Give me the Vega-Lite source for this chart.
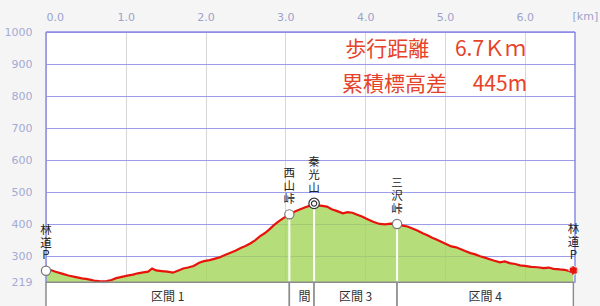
{
  "$schema": "https://vega.github.io/schema/vega-lite/v6.json",
  "width": 529,
  "height": 274,
  "autosize": {"type": "none"},
  "padding": {"left": 46, "top": 32, "right": 25, "bottom": 0},
  "background": "#f5f5f5",
  "view": {"fill": "white", "stroke": null},
  "config": {"font": "DejaVu Sans"},
  "datasets": {
    "profile": [
      {"km": 0.00, "elev": 255}, {"km": 0.05, "elev": 258}, {"km": 0.12, "elev": 252}, {"km": 0.20, "elev": 246},
      {"km": 0.28, "elev": 240}, {"km": 0.36, "elev": 236}, {"km": 0.45, "elev": 231}, {"km": 0.52, "elev": 229},
      {"km": 0.60, "elev": 224}, {"km": 0.68, "elev": 222}, {"km": 0.76, "elev": 223}, {"km": 0.82, "elev": 226},
      {"km": 0.88, "elev": 232}, {"km": 0.95, "elev": 236}, {"km": 1.02, "elev": 240}, {"km": 1.09, "elev": 243},
      {"km": 1.15, "elev": 247}, {"km": 1.22, "elev": 250}, {"km": 1.28, "elev": 252}, {"km": 1.33, "elev": 262},
      {"km": 1.38, "elev": 256}, {"km": 1.45, "elev": 254}, {"km": 1.52, "elev": 252}, {"km": 1.59, "elev": 249},
      {"km": 1.66, "elev": 256}, {"km": 1.72, "elev": 262}, {"km": 1.78, "elev": 265}, {"km": 1.85, "elev": 270},
      {"km": 1.92, "elev": 280}, {"km": 1.98, "elev": 285}, {"km": 2.05, "elev": 288}, {"km": 2.12, "elev": 293},
      {"km": 2.18, "elev": 297}, {"km": 2.25, "elev": 305}, {"km": 2.32, "elev": 312}, {"km": 2.38, "elev": 318},
      {"km": 2.44, "elev": 326}, {"km": 2.50, "elev": 332}, {"km": 2.56, "elev": 340}, {"km": 2.62, "elev": 350},
      {"km": 2.68, "elev": 362}, {"km": 2.74, "elev": 372}, {"km": 2.80, "elev": 384}, {"km": 2.86, "elev": 398},
      {"km": 2.92, "elev": 410}, {"km": 2.98, "elev": 420}, {"km": 3.05, "elev": 430}, {"km": 3.12, "elev": 440},
      {"km": 3.18, "elev": 446}, {"km": 3.25, "elev": 453}, {"km": 3.31, "elev": 458}, {"km": 3.37, "elev": 460},
      {"km": 3.44, "elev": 458}, {"km": 3.52, "elev": 455}, {"km": 3.58, "elev": 447}, {"km": 3.65, "elev": 441},
      {"km": 3.72, "elev": 434}, {"km": 3.78, "elev": 438}, {"km": 3.84, "elev": 436}, {"km": 3.90, "elev": 430},
      {"km": 3.96, "elev": 424}, {"km": 4.03, "elev": 416}, {"km": 4.10, "elev": 408}, {"km": 4.18, "elev": 401},
      {"km": 4.25, "elev": 400}, {"km": 4.32, "elev": 402}, {"km": 4.40, "elev": 401}, {"km": 4.47, "elev": 396},
      {"km": 4.53, "elev": 393}, {"km": 4.60, "elev": 386}, {"km": 4.66, "elev": 380}, {"km": 4.72, "elev": 372},
      {"km": 4.78, "elev": 366}, {"km": 4.84, "elev": 358}, {"km": 4.90, "elev": 352}, {"km": 4.96, "elev": 345},
      {"km": 5.02, "elev": 338}, {"km": 5.08, "elev": 331}, {"km": 5.14, "elev": 328}, {"km": 5.20, "elev": 322},
      {"km": 5.26, "elev": 316}, {"km": 5.32, "elev": 310}, {"km": 5.38, "elev": 306}, {"km": 5.44, "elev": 300},
      {"km": 5.50, "elev": 296}, {"km": 5.56, "elev": 291}, {"km": 5.62, "elev": 286}, {"km": 5.69, "elev": 281},
      {"km": 5.75, "elev": 284}, {"km": 5.81, "elev": 279}, {"km": 5.88, "elev": 276}, {"km": 5.94, "elev": 272},
      {"km": 6.00, "elev": 270}, {"km": 6.08, "elev": 267}, {"km": 6.16, "elev": 266}, {"km": 6.24, "elev": 263},
      {"km": 6.30, "elev": 265}, {"km": 6.36, "elev": 261}, {"km": 6.44, "elev": 259}, {"km": 6.50, "elev": 258},
      {"km": 6.57, "elev": 253}, {"km": 6.61, "elev": 256}
    ],
    "points": [
      {"name": "林道P", "label": "林\n道\nP", "km": 0.0, "elev": 255, "kind": "start"},
      {"name": "西山峠", "label": "西\n山\n峠", "km": 3.05, "elev": 431, "kind": "pass"},
      {"name": "秦光山", "label": "秦\n光\n山", "km": 3.36, "elev": 465, "kind": "summit"},
      {"name": "三沢峠", "label": "三\n沢\n峠", "km": 4.40, "elev": 401, "kind": "pass"},
      {"name": "林道P", "label": "林\n道\nP", "km": 6.61, "elev": 256, "kind": "goal"}
    ],
    "sections": [
      {"label": "区間 1", "km0": 0.0, "km1": 3.05, "mid": 1.525},
      {"label": "間", "km0": 3.05, "km1": 3.36, "mid": 3.24},
      {"label": "区間 3", "km0": 3.36, "km1": 4.40, "mid": 3.88},
      {"label": "区間 4", "km0": 4.40, "km1": 6.61, "mid": 5.505}
    ],
    "stats": [
      {"text": "歩行距離　 6.7Ｋｍ", "km": 3.75, "elev": 944},
      {"text": "累積標高差　 445m", "km": 3.71, "elev": 834}
    ]
  },
  "layer": [
    {
      "data": {"name": "profile"},
      "mark": {"type": "area", "color": "#a2d65a", "fillOpacity": 0.8},
      "encoding": {
        "x": {
          "field": "km", "type": "quantitative",
          "scale": {"domain": [0, 6.63], "nice": false, "zero": false},
          "axis": {
            "orient": "top", "values": [0, 1, 2, 3, 4, 5, 6], "format": ".1f", "tickCount": 20,
            "ticks": false, "domain": false, "grid": true, "gridColor": "#d6d6d6",
            "labelColor": "#9ca2cc", "labelFontSize": 11, "labelPadding": 10, "labelOverlap": false,
            "title": "[km]", "titleX": 526, "titleY": -16, "titleAlign": "left",
            "titleBaseline": "middle", "titleFontWeight": "normal", "titleFontSize": 11,
            "titleColor": "#9ca2cc"
          }
        },
        "y": {
          "field": "elev", "type": "quantitative",
          "scale": {"domain": [145, 1000], "nice": false, "zero": false},
          "axis": {
            "values": [219, 300, 400, 500, 600, 700, 800, 900, 1000], "format": "d", "tickCount": 20,
            "ticks": false, "domain": false, "grid": true, "gridColor": "#9c9ce8",
            "labelColor": "#a4aad4", "labelFontSize": 11, "labelPadding": 14, "labelOverlap": false,
            "title": null
          }
        },
        "y2": {"datum": 219}
      }
    },
    {
      "data": {"name": "points"},
      "transform": [{"filter": "datum.kind != 'start' && datum.kind != 'goal'"}],
      "mark": {"type": "rule", "color": "white", "strokeWidth": 2},
      "encoding": {
        "x": {"field": "km", "type": "quantitative"},
        "y": {"field": "elev", "type": "quantitative"},
        "y2": {"datum": 219}
      }
    },
    {
      "data": {"name": "profile"},
      "mark": {"type": "line", "color": "#e8140c", "strokeWidth": 2.2},
      "encoding": {
        "x": {"field": "km", "type": "quantitative"},
        "y": {"field": "elev", "type": "quantitative"}
      }
    },
    {
      "data": {"name": "sections"},
      "mark": {"type": "rect", "fill": "white", "stroke": "#8c8c8c", "strokeWidth": 1.5},
      "encoding": {
        "x": {"field": "km0", "type": "quantitative"},
        "x2": {"field": "km1"},
        "y": {"datum": 219},
        "y2": {"datum": 100}
      }
    },
    {
      "data": {"name": "sections"},
      "mark": {"type": "text", "font": "Noto Sans CJK JP", "fontSize": 12, "color": "#333333", "baseline": "middle"},
      "encoding": {
        "x": {"field": "mid", "type": "quantitative"},
        "y": {"datum": 173},
        "text": {"field": "label"}
      }
    },
    {
      "data": {"values": [{}]},
      "mark": {"type": "rule", "color": "#8a8ae6", "strokeWidth": 1.5},
      "encoding": {
        "x": {"datum": 0},
        "y": {"datum": 219},
        "y2": {"datum": 1000}
      }
    },
    {
      "data": {"values": [{}]},
      "mark": {"type": "rule", "color": "#8a8ae6", "strokeWidth": 1.5},
      "encoding": {
        "x": {"datum": 6.63},
        "y": {"datum": 219},
        "y2": {"datum": 1000}
      }
    },
    {
      "data": {"values": [{}]},
      "mark": {"type": "rule", "color": "#8a8ae6", "strokeWidth": 1.5},
      "encoding": {
        "x": {"datum": 0},
        "x2": {"datum": 6.63},
        "y": {"datum": 1000}
      }
    },
    {
      "data": {"name": "points"},
      "transform": [{"filter": "datum.kind == 'start' || datum.kind == 'pass'"}],
      "mark": {"type": "point", "shape": "circle", "filled": true, "fill": "white", "stroke": "#777777", "strokeWidth": 1.2, "size": 85, "opacity": 1},
      "encoding": {
        "x": {"field": "km", "type": "quantitative"},
        "y": {"field": "elev", "type": "quantitative"}
      }
    },
    {
      "data": {"name": "points"},
      "transform": [{"filter": "datum.kind == 'summit'"}],
      "mark": {"type": "point", "shape": "circle", "filled": true, "fill": "white", "stroke": "#333333", "strokeWidth": 1.2, "size": 110, "opacity": 1},
      "encoding": {
        "x": {"field": "km", "type": "quantitative"},
        "y": {"field": "elev", "type": "quantitative"}
      }
    },
    {
      "data": {"name": "points"},
      "transform": [{"filter": "datum.kind == 'summit'"}],
      "mark": {"type": "point", "shape": "circle", "filled": false, "stroke": "#333333", "strokeWidth": 1.2, "size": 28, "opacity": 1},
      "encoding": {
        "x": {"field": "km", "type": "quantitative"},
        "y": {"field": "elev", "type": "quantitative"}
      }
    },
    {
      "data": {"name": "points"},
      "transform": [{"filter": "datum.kind == 'goal'"}],
      "mark": {"type": "point", "shape": "circle", "filled": true, "fill": "#e8140c", "stroke": "#cccccc", "strokeWidth": 1.5, "strokeDash": [2, 2], "size": 70, "opacity": 1},
      "encoding": {
        "x": {"field": "km", "type": "quantitative"},
        "y": {"field": "elev", "type": "quantitative"}
      }
    },
    {
      "data": {"name": "points"},
      "mark": {"type": "text", "font": "Noto Sans CJK JP", "fontSize": 11.5, "lineHeight": 12.8, "lineBreak": "\n", "baseline": "bottom", "align": "center", "dy": -35, "color": "#222222"},
      "encoding": {
        "x": {"field": "km", "type": "quantitative"},
        "y": {"field": "elev", "type": "quantitative"},
        "text": {"field": "label"}
      }
    },
    {
      "data": {"name": "stats"},
      "mark": {"type": "text", "font": "Noto Sans CJK JP", "fontSize": 21, "align": "left", "baseline": "middle", "color": "#e5432a"},
      "encoding": {
        "x": {"field": "km", "type": "quantitative"},
        "y": {"field": "elev", "type": "quantitative"},
        "text": {"field": "text"}
      }
    }
  ]
}
